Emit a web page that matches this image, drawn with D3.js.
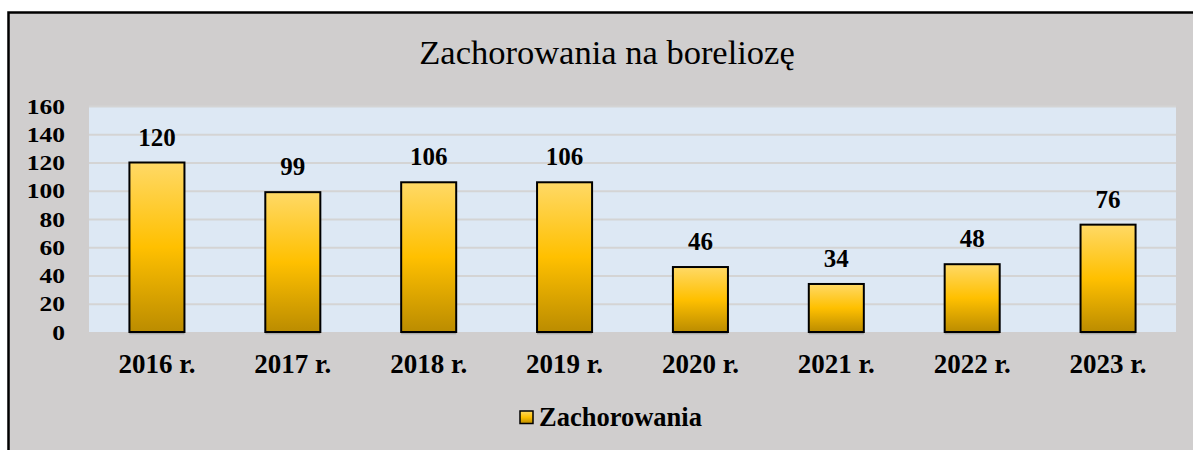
<!DOCTYPE html>
<html>
<head>
<meta charset="utf-8">
<script src="https://cdn.jsdelivr.net/npm/d3@7"></script>
<style>
  html, body { margin: 0; padding: 0; background: #fff; overflow: hidden; }
  text { font-family: "Liberation Serif", "Times New Roman", serif; }
</style>
</head>
<body>
<div id="view"></div>
<script>
// dane z wykresu
const years = ['2016 r.', '2017 r.', '2018 r.', '2019 r.', '2020 r.', '2021 r.', '2022 r.', '2023 r.'];
const cases = [120, 99, 106, 106, 46, 34, 48, 76];
const yTicks = [0, 20, 40, 60, 80, 100, 120, 140, 160];
const chartTitle = 'Zachorowania na boreliozę';
const seriesName = 'Zachorowania';

const W = 1193, H = 450;
const plot = { left: 89, right: 1176, top: 106, bottom: 332 };
const serif = '"Liberation Serif", "Times New Roman", serif';

const svg = d3.select('#view')
  .append('svg')
  .attr('width', W)
  .attr('height', H);

// gradient slupkow
const defs = svg.append('defs');
const grad = defs.append('linearGradient')
  .attr('id', 'barGrad')
  .attr('x1', 0).attr('y1', 0).attr('x2', 0).attr('y2', 1);
grad.append('stop').attr('offset', '0%').attr('stop-color', '#ffd966');
grad.append('stop').attr('offset', '50%').attr('stop-color', '#ffc000');
grad.append('stop').attr('offset', '100%').attr('stop-color', '#bb8c00');

// tlo i ramka
svg.append('rect')
  .attr('x', 8.5).attr('y', 12.5)
  .attr('width', W + 20).attr('height', H + 20)
  .attr('fill', '#d0cece')
  .attr('stroke', '#000')
  .attr('stroke-width', 2.5);

svg.append('text')
  .attr('x', 607).attr('y', 64)
  .attr('text-anchor', 'middle')
  .attr('font-size', 34.5)
  .attr('fill', '#000')
  .text(chartTitle);

const x = d3.scaleBand()
  .domain(years)
  .range([plot.left, plot.right])
  .paddingInner(0.595)
  .paddingOuter(0.2975);

const y = d3.scaleLinear()
  .domain([0, 160])
  .range([plot.bottom, plot.top]);

// obszar wykresu
svg.append('rect')
  .attr('x', plot.left).attr('y', plot.top)
  .attr('width', plot.right - plot.left)
  .attr('height', plot.bottom - plot.top)
  .attr('fill', '#dde8f4');

// linie siatki
const grid = svg.append('g')
  .attr('transform', `translate(${plot.left},0)`)
  .call(d3.axisLeft(y).tickValues(yTicks.slice(1)).tickSize(-(plot.right - plot.left)).tickFormat(''));
grid.select('.domain').remove();
grid.selectAll('.tick line')
  .attr('stroke', '#d4d4d4')
  .attr('stroke-width', 2);

// os Y
const yAxis = svg.append('g')
  .attr('transform', `translate(65,0)`)
  .call(d3.axisLeft(y).tickValues(yTicks).tickSize(0).tickPadding(0));
yAxis.select('.domain').remove();
yAxis.selectAll('.tick text')
  .attr('font-family', serif)
  .attr('font-size', 22)
  .attr('font-weight', 'bold')
  .attr('fill', '#000')
  .attr('x', 0)
  .attr('transform', 'scale(1.16,1)');

// cien pod slupkami
svg.append('g').selectAll('rect')
  .data(cases)
  .join('rect')
  .attr('x', (d, i) => x(years[i]))
  .attr('y', y(0) + 0.5)
  .attr('width', x.bandwidth())
  .attr('height', 1.8)
  .attr('fill', '#a8a8a8');

// slupki
svg.append('g').selectAll('rect')
  .data(cases)
  .join('rect')
  .attr('x', (d, i) => x(years[i]))
  .attr('y', d => y(d))
  .attr('width', x.bandwidth())
  .attr('height', d => y(0) - y(d))
  .attr('fill', 'url(#barGrad)')
  .attr('stroke', '#000')
  .attr('stroke-width', 2);

// etykiety danych
svg.append('g').selectAll('text')
  .data(cases)
  .join('text')
  .attr('x', (d, i) => x(years[i]) + x.bandwidth() / 2)
  .attr('y', d => y(d) - 17)
  .attr('text-anchor', 'middle')
  .attr('font-size', 25)
  .attr('font-weight', 'bold')
  .attr('fill', '#000')
  .text(d => d);

// os X
const xAxis = svg.append('g')
  .attr('transform', `translate(0,${plot.bottom})`)
  .call(d3.axisBottom(x).tickSize(0));
xAxis.select('.domain').remove();
xAxis.selectAll('.tick text')
  .attr('font-family', serif)
  .attr('font-size', 27)
  .attr('font-weight', 'bold')
  .attr('fill', '#000')
  .attr('dy', null)
  .attr('y', 40.5);

// legenda
const legend = svg.append('g');
legend.append('rect')
  .attr('x', 520).attr('y', 411)
  .attr('width', 13).attr('height', 12.5)
  .attr('fill', 'url(#barGrad)')
  .attr('stroke', '#000')
  .attr('stroke-width', 1.5);
legend.append('text')
  .attr('x', 539).attr('y', 426)
  .attr('font-size', 26.5)
  .attr('font-weight', 'bold')
  .attr('fill', '#000')
  .text(seriesName);
</script>
</body>
</html>
